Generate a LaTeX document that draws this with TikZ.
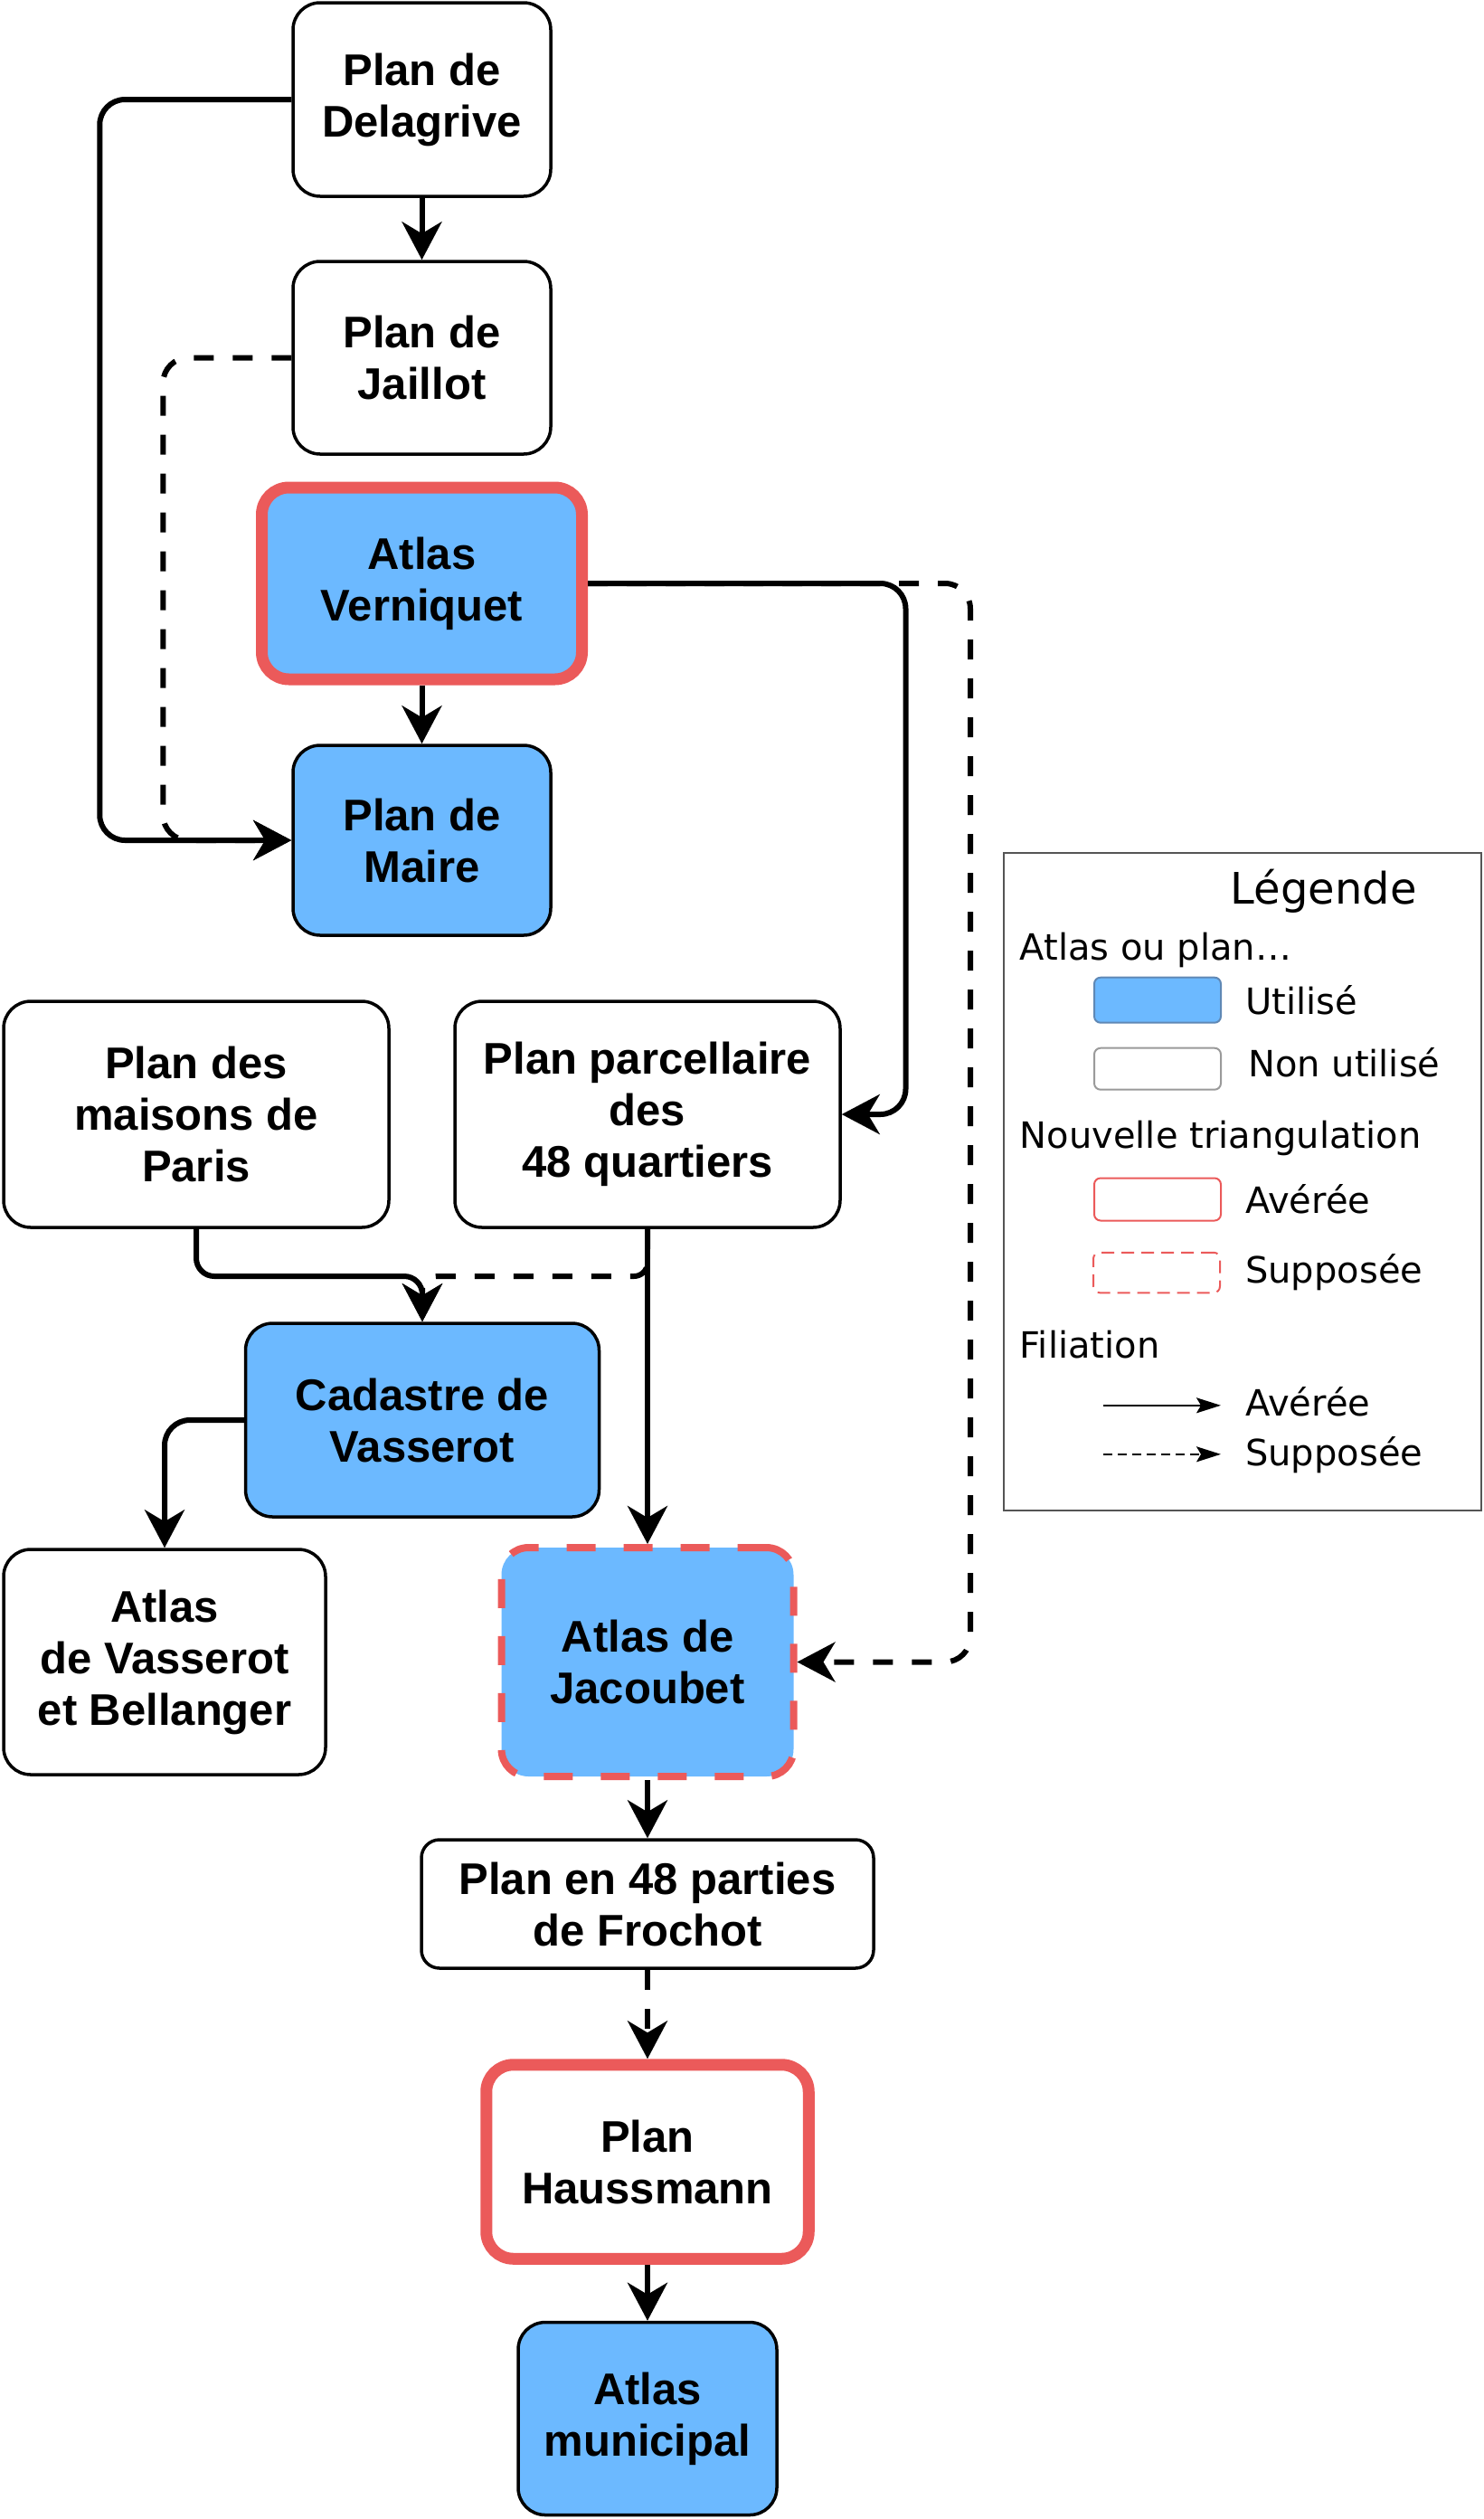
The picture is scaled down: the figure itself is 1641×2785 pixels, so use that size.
\documentclass[tikz,border=0pt]{standalone}
\usepackage{fontspec}
\setmainfont{Liberation Sans}
\newfontfamily\legfont{DejaVu Sans}
\usetikzlibrary{arrows.meta}
\definecolor{ublue}{HTML}{6CB9FF}
\definecolor{tred}{HTML}{EB5A5A}
\definecolor{legborder}{HTML}{555555}
\definecolor{swblue}{HTML}{5F88B5}
\definecolor{swgray}{HTML}{9A9A9A}
\begin{document}
\begin{tikzpicture}[x=1pt,y=-1pt,
  box/.style={draw=black, line width=3.5pt, rounded corners=30pt, inner sep=0pt, align=center,
    font=\bfseries\fontsize{49}{57}\selectfont, fill=white},
  lowtext/.style={execute at begin node={\rule{0pt}{46pt}}},
  used/.style={fill=ublue},
  tri/.style={draw=tred, line width=13pt},
  trisup/.style={draw=tred, line width=8pt, dash pattern=on 32pt off 31pt},
  conn/.style={line width=6pt, rounded corners=28pt, -{Stealth[length=42pt,width=44pt,inset=13pt]}},
  supp/.style={dash pattern=on 22pt off 21pt},
  leg/.style={font=\legfont\fontsize{40}{48}\selectfont, anchor=base west, inner sep=0pt},
  swatch/.style={minimum width=140pt, inner sep=0pt, rounded corners=7pt, line width=2pt},
  legarrow/.style={line width=2pt, -{Stealth[length=27pt,width=17pt,inset=5pt]}},
]
\useasboundingbox (0,0) rectangle (1641,2785);

% nodes
\node[box, lowtext, minimum width=285pt, minimum height=214pt] (delagrive) at (466.5,110) {Plan de\\Delagrive};
\node[box, lowtext, minimum width=285pt, minimum height=213pt] (jaillot) at (466.5,395.5) {Plan de\\Jaillot};
\node[box, lowtext, used, tri, minimum width=354pt, minimum height=212pt] (verniquet) at (466.5,645) {Atlas\\Verniquet};
\node[box, lowtext, used, minimum width=285pt, minimum height=210pt] (maire) at (466.5,929) {Plan de\\Maire};
\node[box, minimum width=426pt, minimum height=250pt] (paris) at (217,1232) {Plan des\\maisons de\\Paris};
\node[box, minimum width=426pt, minimum height=250pt] (parcel) at (716,1232) {Plan parcellaire\\des\\48 quartiers};
\node[box, used, minimum width=391pt, minimum height=214pt] (cadastre) at (467,1570) {Cadastre de\\Vasserot};
\node[box, minimum width=356pt, minimum height=249pt] (avb) at (182,1837.5) {Atlas\\de Vasserot\\et Bellanger};
\node[box, used, trisup, minimum width=323pt, minimum height=253pt] (jacoubet) at (716,1837.5) {Atlas de\\Jacoubet};
\node[box, rounded corners=20pt, minimum width=500pt, minimum height=142pt] (frochot) at (716,2105) {Plan en 48 parties\\de Frochot};
\node[box, tri, minimum width=356.5pt, minimum height=214.5pt] (haussmann) at (716,2390) {Plan\\Haussmann};
\node[box, lowtext, used, minimum width=286pt, minimum height=213pt] (municipal) at (716,2674) {Atlas\\municipal};

% helper coordinates
\coordinate (xr) at (1001.5,0);
\coordinate (xd) at (1073,0);
\coordinate (hy) at (0,1411);

% connectors
\draw[conn] (delagrive.south) -- (jaillot.north);
\draw[conn] (delagrive.west) -- ++(-212,0) |- (maire.west);
\draw[conn, supp] (jaillot.west) -- ++(-142,0) |- (maire.west);
\draw[conn] (verniquet.south) -- (maire.north);
\draw[conn] (verniquet.east) -- (verniquet.east -| xr) |- (parcel.east);
\draw[conn, supp] (verniquet.east) -- (verniquet.east -| xd) |- (jacoubet.east);
\draw[conn, rounded corners=20pt] (paris.south) -- (paris.south |- hy) -| (cadastre.north);
\draw[conn, supp, rounded corners=15pt] (parcel.south) -- (parcel.south |- hy) -| (cadastre.north);
\draw[conn] (parcel.south) -- (jacoubet.north);
\draw[conn] (cadastre.west) -| (avb.north);
\draw[conn] (jacoubet.south) -- (frochot.north);
\draw[conn, supp] (frochot.south) -- (haussmann.north);
\draw[conn] (haussmann.south) -- (municipal.north);

% legend
\node[draw=legborder, line width=2pt, minimum width=528pt, minimum height=727pt, inner sep=0pt] (legend) at (1374,1306.5) {};
\node[leg, font=\legfont\fontsize{48}{56}\selectfont] (lgtitle) at (1360.5,999.3) {Légende};
\node[leg] (lgatlas) at (1127.6,1061.5) {Atlas ou plan…};
\node[swatch, fill=ublue, draw=swblue, minimum height=50pt] (sw1) at (1280,1105.7) {};
\node[leg] (lgused) at (1377,1121) {Utilisé};
\node[swatch, fill=white, draw=swgray, minimum height=46pt] (sw2) at (1280,1181.7) {};
\node[leg] (lgunused) at (1380,1190.5) {Non utilisé};
\node[leg] (lgtri) at (1127.6,1269.4) {Nouvelle triangulation};
\node[swatch, draw=tred, minimum height=47pt] (sw3) at (1280,1326) {};
\node[leg] (lgav1) at (1377,1341) {Avérée};
\node[swatch, draw=tred, dash pattern=on 14pt off 8pt, minimum height=44.5pt] (sw4) at (1279,1407) {};
\node[leg] (lgsup1) at (1377,1418.5) {Supposée};
\node[leg] (lgfil) at (1127.6,1501) {Filiation};
\coordinate (la1) at (1220,1553.8);
\coordinate (lb1) at (1350,1553.8);
\draw[legarrow] (la1) -- (lb1);
\node[leg] (lgav2) at (1377,1565.7) {Avérée};
\coordinate (la2) at (1220,1607.8);
\coordinate (lb2) at (1350,1607.8);
\draw[legarrow, dash pattern=on 10pt off 6pt] (la2) -- (lb2);
\node[leg] (lgsup2) at (1377,1620.7) {Supposée};
\end{tikzpicture}
\end{document}
